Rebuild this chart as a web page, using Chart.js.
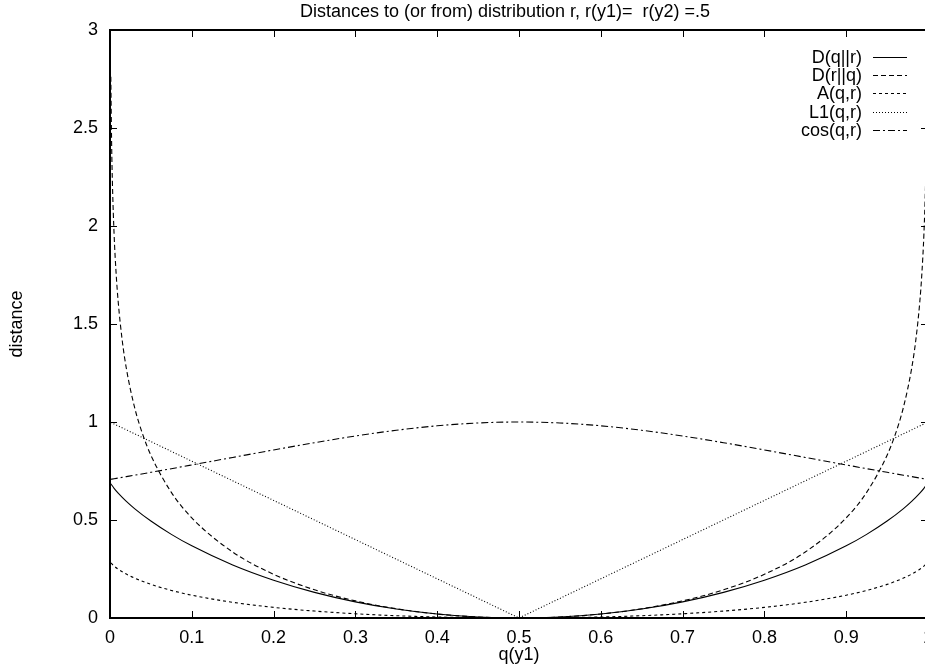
<!DOCTYPE html>
<html>
<head>
<meta charset="utf-8">
<script src="https://cdn.jsdelivr.net/npm/chart.js@4.4.0/dist/chart.umd.min.js"></script>
<style>
  html, body { margin: 0; padding: 0; background: #fff; overflow: hidden; width: 925px; height: 667px; }
  canvas { display: block; }
</style>
</head>
<body>
<canvas id="chart" width="940" height="667"></canvas>
<script>
// q(y1) sample points, shared by four of the curves
const qGrid = [0.001, 0.005, 0.01, 0.02, 0.03, 0.05, 0.075, 0.1, 0.15, 0.2, 0.25, 0.3, 0.35, 0.4, 0.45, 0.5,
  0.55, 0.6, 0.65, 0.7, 0.75, 0.8, 0.85, 0.9, 0.925, 0.95, 0.97, 0.98, 0.99, 0.995, 0.999];

const dQR = [0.6852, 0.6617, 0.6372, 0.5951, 0.5584, 0.4946, 0.4268, 0.3681, 0.2704, 0.1927, 0.1308, 0.0823, 0.0457, 0.0201, 0.0050, 0,
  0.0050, 0.0201, 0.0457, 0.0823, 0.1308, 0.1927, 0.2704, 0.3681, 0.4268, 0.4946, 0.5584, 0.5951, 0.6372, 0.6617, 0.6852];

const aQR = [0.2815, 0.2650, 0.2491, 0.2240, 0.2038, 0.1715, 0.1407, 0.1163, 0.0800, 0.0542, 0.0354, 0.0216, 0.0117, 0.0051, 0.0013, 0,
  0.0013, 0.0051, 0.0117, 0.0216, 0.0354, 0.0542, 0.0800, 0.1163, 0.1407, 0.1715, 0.2038, 0.2240, 0.2491, 0.2650, 0.2815];

const l1QR = [0.998, 0.99, 0.98, 0.96, 0.94, 0.9, 0.85, 0.8, 0.7, 0.6, 0.5, 0.4, 0.3, 0.2, 0.1, 0,
  0.1, 0.2, 0.3, 0.4, 0.5, 0.6, 0.7, 0.8, 0.85, 0.9, 0.94, 0.96, 0.98, 0.99, 0.998];

const cosQR = [0.7078, 0.7107, 0.7142, 0.7214, 0.7286, 0.7433, 0.7619, 0.7809, 0.8192, 0.8575, 0.8944, 0.9285, 0.9578, 0.9806, 0.9950, 1,
  0.9950, 0.9806, 0.9578, 0.9285, 0.8944, 0.8575, 0.8192, 0.7809, 0.7619, 0.7433, 0.7286, 0.7214, 0.7142, 0.7107, 0.7078];

// D(r||q) blows up at the edges, so it gets denser points there
const qRev = [0.001, 0.002, 0.003, 0.005, 0.0075, 0.01, 0.015, 0.02, 0.03, 0.04, 0.05, 0.075, 0.1, 0.15, 0.2, 0.25, 0.3, 0.35, 0.4, 0.45, 0.5,
  0.55, 0.6, 0.65, 0.7, 0.75, 0.8, 0.85, 0.9, 0.925, 0.95, 0.96, 0.97, 0.98, 0.985, 0.99, 0.9925, 0.995, 0.997, 0.998, 0.999];

const dRQ = [2.7612, 2.4152, 2.2129, 1.9585, 1.7570, 1.6145, 1.4143, 1.2730, 1.0754, 0.9367, 0.8304, 0.6410, 0.5108, 0.3367, 0.2231, 0.1438, 0.0872, 0.0472, 0.0204, 0.0050, 0,
  0.0050, 0.0204, 0.0472, 0.0872, 0.1438, 0.2231, 0.3367, 0.5108, 0.6410, 0.8304, 0.9367, 1.0754, 1.2730, 1.4143, 1.6145, 1.7570, 1.9585, 2.2129, 2.4152, 2.7612];

const seriesNames = ['D(q||r)', 'D(r||q)', 'A(q,r)', 'L1(q,r)', 'cos(q,r)'];
const chartTitle = 'Distances to (or from) distribution r, r(y1)=  r(y2) =.5';

const FONT = 'Liberation Sans, Arial, Helvetica, sans-serif';

function pts(xs, ys) {
  return xs.map((x, i) => ({ x, y: ys[i] }));
}

function line(label, data, dash, smooth) {
  return {
    label,
    data,
    borderColor: '#000',
    borderWidth: 1.1,
    borderDash: dash,
    pointRadius: 0,
    fill: false,
    tension: 0,
    cubicInterpolationMode: smooth ? 'monotone' : 'default'
  };
}

// === frame + inward ticks on all four sides (gnuplot look) ===
const framePlugin = {
  id: 'frame',
  afterDraw(chart) {
    const { ctx, chartArea: a, scales } = chart;
    ctx.save();
    ctx.strokeStyle = '#000';
    ctx.lineWidth = 1;
    ctx.setLineDash([]);
    ctx.beginPath();
    scales.x.ticks.forEach(t => {
      const px = Math.round(scales.x.getPixelForValue(t.value)) + 0.5;
      ctx.moveTo(px, a.bottom); ctx.lineTo(px, a.bottom - 7);
      ctx.moveTo(px, a.top); ctx.lineTo(px, a.top + 7);
    });
    scales.y.ticks.forEach(t => {
      const py = Math.round(scales.y.getPixelForValue(t.value)) + 0.5;
      ctx.moveTo(a.left, py); ctx.lineTo(a.left + 7, py);
      ctx.moveTo(a.right, py); ctx.lineTo(a.right - 7, py);
    });
    ctx.stroke();
    ctx.lineWidth = 2;
    ctx.strokeRect(a.left, a.top, a.right - a.left, a.bottom - a.top);
    ctx.restore();
  }
};

// === legend, gnuplot style: text right-aligned, line sample after it ===
const keyPlugin = {
  id: 'key',
  afterDraw(chart) {
    const { ctx, chartArea: a } = chart;
    ctx.save();
    ctx.font = '18px ' + FONT;
    ctx.fillStyle = '#000';
    ctx.textAlign = 'right';
    ctx.textBaseline = 'middle';
    chart.data.datasets.forEach((ds, i) => {
      const y = a.top + 27 + i * 18.2;
      ctx.fillText(ds.label, a.right - 66, y + 1);
      ctx.strokeStyle = '#000';
      ctx.lineWidth = 1;
      ctx.setLineDash(ds.borderDash || []);
      ctx.beginPath();
      ctx.moveTo(a.right - 55, Math.round(y) + 0.5);
      ctx.lineTo(a.right - 21, Math.round(y) + 0.5);
      ctx.stroke();
    });
    ctx.restore();
  }
};

const titlePlugin = {
  id: 'topTitle',
  afterDraw(chart) {
    const { ctx } = chart;
    ctx.save();
    ctx.font = '18px ' + FONT;
    ctx.fillStyle = '#000';
    ctx.textAlign = 'center';
    ctx.textBaseline = 'middle';
    ctx.fillText(chartTitle, 505, 12);
    ctx.restore();
  }
};

const ctx = document.getElementById('chart').getContext('2d');
new Chart(ctx, {
  type: 'line',
  data: {
    datasets: [
      line(seriesNames[0], pts(qGrid, dQR), [], true),
      line(seriesNames[1], pts(qRev, dRQ), [5, 3], true),
      line(seriesNames[2], pts(qGrid, aQR), [3, 3], true),
      line(seriesNames[3], pts(qGrid, l1QR), [1, 2], false),
      line(seriesNames[4], pts(qGrid, cosQR), [7, 3, 2, 3], true)
    ]
  },
  options: {
    responsive: false,
    animation: false,
    devicePixelRatio: 1,
    layout: { padding: { top: 30, right: 12, left: 0, bottom: 0 } },
    plugins: { legend: { display: false }, tooltip: { enabled: false }, title: { display: false } },
    scales: {
      x: {
        type: 'linear',
        min: 0,
        max: 1,
        afterFit: s => { s.height = 49; s.paddingLeft = 0; s.paddingRight = 0; },
        grid: { display: false, drawTicks: false },
        border: { display: false },
        ticks: {
          stepSize: 0.1,
          autoSkip: false,
          maxRotation: 0,
          padding: 9,
          color: '#000',
          font: { family: FONT, size: 18 },
          callback: v => String(Math.round(v * 10) / 10)
        },
        title: {
          display: true,
          text: 'q(y1)',
          color: '#000',
          font: { family: FONT, size: 18 },
          padding: { top: 0, bottom: 1 }
        }
      },
      y: {
        min: 0,
        max: 3,
        afterFit: s => { s.width = 110; },
        grid: { display: false, drawTicks: false },
        border: { display: false },
        ticks: {
          stepSize: 0.5,
          padding: 12,
          color: '#000',
          font: { family: FONT, size: 18 },
          callback: v => String(v)
        },
        title: {
          display: true,
          text: 'distance',
          color: '#000',
          font: { family: FONT, size: 18 },
          padding: { top: 6, bottom: 0 }
        }
      }
    }
  },
  plugins: [framePlugin, keyPlugin, titlePlugin]
});
</script>
</body>
</html>
